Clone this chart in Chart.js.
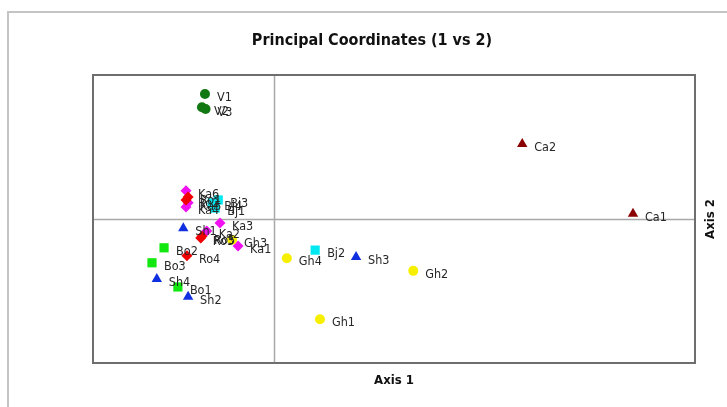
<!DOCTYPE html>
<html>
<head>
<meta charset="utf-8">
<script src="https://cdn.jsdelivr.net/npm/chart.js@4"></script>
<style>
body { margin: 0; background: #fff; }
#wrap { position: relative; width: 727px; height: 407px; }
#frame { position: absolute; left: 7px; top: 11px; width: 740px; height: 420px;
  border-left: 2px solid #c4c4c4; border-top: 2px solid #c4c4c4; }
canvas { position: absolute; left: 0; top: 0; }
</style>
</head>
<body>
<div id="wrap">
<div id="frame"></div>
<canvas id="myChart" width="727" height="407"></canvas>
</div>
<script>
// coordenadas (eixo 1, eixo 2)
const grupos = ['V', 'Ca', 'Gh', 'Bj', 'Sh', 'Bo', 'Ro', 'Ka'];

const nomesV = ['V1', 'V2', 'V3'];
const eixo1V = [-0.114, -0.119, -0.113];
const eixo2V = [0.217, 0.194, 0.191];

const nomesCa = ['Ca1', 'Ca2'];
const eixo1Ca = [0.597, 0.413];
const eixo2Ca = [0.009, 0.130];

const nomesGh = ['Gh1', 'Gh2', 'Gh3', 'Gh4'];
const eixo1Gh = [0.077, 0.232, -0.069, 0.022];
const eixo2Gh = [-0.174, -0.090, -0.036, -0.068];

const nomesBj = ['Bj1', 'Bj2', 'Bj3', 'Bj4'];
const eixo1Bj = [-0.097, 0.069, -0.092, -0.102];
const eixo2Bj = [0.019, -0.054, 0.033, 0.028];

const nomesSh = ['Sh1', 'Sh2', 'Sh3', 'Sh4'];
const eixo1Sh = [-0.150, -0.142, 0.137, -0.194];
const eixo2Sh = [-0.016, -0.135, -0.066, -0.104];

const nomesBo = ['Bo1', 'Bo2', 'Bo3'];
const eixo1Bo = [-0.159, -0.182, -0.202];
const eixo2Bo = [-0.118, -0.050, -0.076];

const nomesRo = ['Ro1', 'Ro2', 'Ro3', 'Ro4', 'Ro5'];
const eixo1Ro = [-0.142, -0.1455, -0.121, -0.144, -0.119];
const eixo2Ro = [0.038, 0.033, -0.033, -0.064, -0.030];

const nomesKa = ['Ka1', 'Ka2', 'Ka3', 'Ka4', 'Ka5', 'Ka6'];
const eixo1Ka = [-0.059, -0.111, -0.089, -0.1455, -0.142, -0.1455];
const eixo2Ka = [-0.047, -0.021, -0.007, 0.021, 0.028, 0.049];

const titulo = 'Principal Coordinates (1 vs 2)';
const tituloX = 'Axis 1';
const tituloY = 'Axis 2';

const fonte = '"DejaVu Sans Condensed", "Liberation Sans", sans-serif';

function pontos(nomes, xs, ys) {
    let lista = [];
    for (let i = 0; i < nomes.length; i++) {
        lista.push({x: xs[i], y: ys[i], nome: nomes[i]});
    }
    return lista;
}

function serie(nome, dados, cor, estilo, raio) {
    return {
        label: nome,
        data: dados,
        backgroundColor: cor,
        borderColor: cor,
        borderWidth: 0,
        pointStyle: estilo,
        pointRadius: raio,
        pointHoverRadius: raio
    };
}

// desenha moldura, linhas do zero, rótulos e títulos
const extras = {
    id: 'extras',
    beforeDatasetsDraw(chart) {
        const c = chart.ctx;
        const a = chart.chartArea;
        const sx = chart.scales.x, sy = chart.scales.y;
        c.save();
        c.strokeStyle = '#a8a8a8';
        c.lineWidth = 1.5;
        let x0 = Math.round(sx.getPixelForValue(0)) + 0.5;
        let y0 = Math.round(sy.getPixelForValue(0)) + 0.5;
        c.beginPath();
        c.moveTo(x0, a.top); c.lineTo(x0, a.bottom);
        c.moveTo(a.left, y0); c.lineTo(a.right, y0);
        c.stroke();
        c.strokeStyle = '#6e6e6e';
        c.lineWidth = 2;
        c.strokeRect(a.left, a.top, a.right - a.left, a.bottom - a.top);
        c.restore();
    },
    afterDatasetsDraw(chart) {
        const c = chart.ctx;
        const a = chart.chartArea;
        c.save();
        c.fillStyle = '#262626';
        c.font = '12.5px ' + fonte;
        c.textBaseline = 'middle';
        c.textAlign = 'left';
        chart.data.datasets.forEach((ds, i) => {
            const meta = chart.getDatasetMeta(i);
            meta.data.forEach((p, j) => {
                c.fillText(ds.data[j].nome, p.x + 12, p.y + 4);
            });
        });
        c.fillStyle = '#111';
        c.textAlign = 'center';
        c.font = 'bold 16px ' + fonte;
        c.fillText(titulo, 372, 41);
        c.font = 'bold 13px ' + fonte;
        c.fillText(tituloX, (a.left + a.right) / 2, 381);
        c.translate(711, (a.top + a.bottom) / 2);
        c.rotate(-Math.PI / 2);
        c.fillText(tituloY, 0, 0);
        c.restore();
    }
};

const ctx = document.getElementById('myChart');
const myChart = new Chart(ctx, {
    type: 'scatter',
    data: {
        datasets: [
            serie('V', pontos(nomesV, eixo1V, eixo2V), '#127812', 'circle', 5),
            serie('Ca', pontos(nomesCa, eixo1Ca, eixo2Ca), '#8b0000', 'triangle', 6),
            serie('Gh', pontos(nomesGh, eixo1Gh, eixo2Gh), '#f6f000', 'circle', 5),
            serie('Bj', pontos(nomesBj, eixo1Bj, eixo2Bj), '#00e8f0', 'rect', 6.5),
            serie('Sh', pontos(nomesSh, eixo1Sh, eixo2Sh), '#0f2fe0', 'triangle', 6),
            serie('Bo', pontos(nomesBo, eixo1Bo, eixo2Bo), '#10e810', 'rect', 6.5),
            serie('Ro', pontos(nomesRo, eixo1Ro, eixo2Ro), '#f00000', 'rectRot', 5.5),
            serie('Ka', pontos(nomesKa, eixo1Ka, eixo2Ka), '#f010f0', 'rectRot', 5.5)
        ]
    },
    options: {
        responsive: false,
        animation: false,
        layout: { padding: { left: 93, right: 32, top: 75, bottom: 44 } },
        scales: {
            x: { display: false, min: -0.3, max: 0.7 },
            y: { display: false, min: -0.25, max: 0.25 }
        },
        plugins: {
            legend: { display: false },
            tooltip: { enabled: false }
        }
    },
    plugins: [extras]
});
</script>
</body>
</html>
